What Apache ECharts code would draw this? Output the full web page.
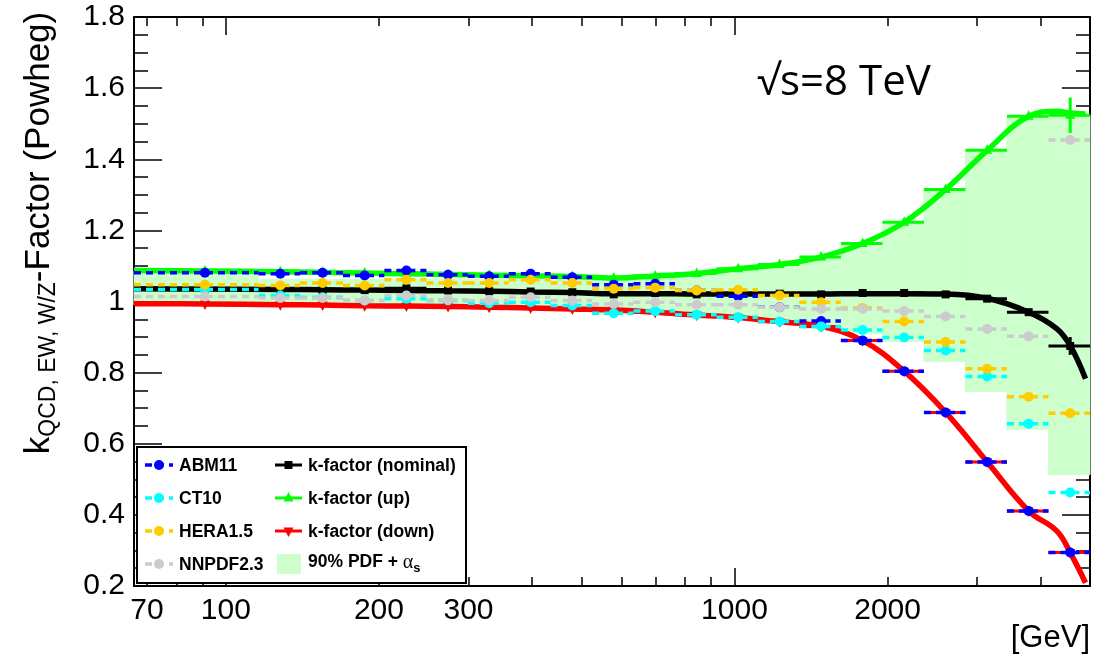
<!DOCTYPE html>
<html>
<head>
<meta charset="utf-8">
<script src="https://cdn.jsdelivr.net/npm/echarts@6.0.0/dist/echarts.min.js"></script>
<style>
  html, body { margin: 0; padding: 0; background: #fff; }
  #main { width: 1105px; height: 661px; }
</style>
</head>
<body>
<div id="main"></div>
<script>
// bin edges in GeV (log x axis)
var binEdges = [66, 116, 140, 170, 205, 248, 299, 360, 435, 525, 633, 764, 922, 1112, 1342, 1619, 1954, 2358, 2845, 3433, 4143, 5000];

// PDF sets, one value per bin
var abm11   = [1.081, 1.078, 1.081, 1.073, 1.087, 1.075, 1.071, 1.078, 1.068, 1.047, 1.050, 1.031, 1.015, 0.984, 0.945, 0.890, 0.804, 0.688, 0.549, 0.411, 0.294];
var ct10    = [1.034, 1.017, 1.012, 1.003, 1.008, 1.003, 0.995, 0.998, 0.989, 0.967, 0.973, 0.963, 0.956, 0.944, 0.930, 0.920, 0.899, 0.862, 0.789, 0.656, 0.463];
var hera15  = [1.047, 1.045, 1.052, 1.045, 1.061, 1.052, 1.052, 1.061, 1.052, 1.036, 1.039, 1.031, 1.033, 1.017, 0.998, 0.982, 0.944, 0.886, 0.811, 0.732, 0.686];
var nnpdf23 = [1.014, 1.010, 1.010, 1.003, 1.017, 1.005, 1.003, 1.012, 1.003, 0.993, 0.998, 0.991, 0.991, 0.984, 0.979, 0.979, 0.973, 0.958, 0.923, 0.902, 1.454];

// k-factor points per bin
var kNominal = [1.035, 1.034, 1.033, 1.032, 1.037, 1.031, 1.029, 1.028, 1.026, 1.020, 1.024, 1.020, 1.022, 1.022, 1.020, 1.024, 1.024, 1.020, 1.008, 0.970, 0.875];
var kUp      = [1.086, 1.084, 1.082, 1.080, 1.078, 1.076, 1.074, 1.072, 1.070, 1.066, 1.072, 1.079, 1.092, 1.104, 1.125, 1.163, 1.223, 1.315, 1.425, 1.521, 1.524];
var kDown    = [0.993, 0.991, 0.990, 0.988, 0.987, 0.986, 0.984, 0.982, 0.979, 0.976, 0.970, 0.962, 0.955, 0.943, 0.930, 0.890, 0.804, 0.688, 0.549, 0.411, 0.294];
var kNominalErr = [0, 0, 0, 0, 0, 0, 0, 0, 0, 0, 0, 0, 0, 0, 0, 0, 0, 0, 0, 0, 0.025];
var kUpErr      = [0, 0, 0, 0, 0, 0, 0, 0, 0, 0, 0, 0, 0, 0, 0, 0, 0, 0, 0, 0, 0.05];

// 90% PDF + alpha_s band per bin
var bandLow  = [0.990, 0.988, 0.987, 0.985, 0.984, 0.983, 0.981, 0.979, 0.976, 0.963, 0.968, 0.958, 0.952, 0.942, 0.924, 0.909, 0.888, 0.831, 0.747, 0.641, 0.513];
var bandHigh = [1.085, 1.062, 1.062, 1.062, 1.062, 1.062, 1.062, 1.062, 1.062, 1.066, 1.072, 1.079, 1.092, 1.104, 1.125, 1.163, 1.223, 1.315, 1.425, 1.521, 1.524];

// smooth k-factor curves
var curveX       = [66, 91, 128, 155, 187.5, 226.5, 273.5, 329.5, 397.5, 480, 579, 698.5, 843, 1017, 1227, 1480.5, 1786.5, 2156, 2601.5, 3139, 3788, 4300, 4571.5, 4900];
var nominalCurve = [1.036, 1.035, 1.034, 1.033, 1.032, 1.031, 1.030, 1.029, 1.027, 1.025, 1.022, 1.022, 1.021, 1.021, 1.021, 1.021, 1.022, 1.022, 1.021, 1.009, 0.970, 0.924, 0.876, 0.783];
var upCurve      = [1.087, 1.086, 1.084, 1.082, 1.080, 1.078, 1.076, 1.074, 1.072, 1.070, 1.066, 1.072, 1.079, 1.092, 1.104, 1.125, 1.163, 1.223, 1.315, 1.425, 1.521, 1.535, 1.530, 1.527];
var downCurve    = [0.994, 0.993, 0.991, 0.990, 0.988, 0.987, 0.986, 0.984, 0.982, 0.979, 0.976, 0.970, 0.962, 0.955, 0.943, 0.930, 0.890, 0.804, 0.688, 0.549, 0.411, 0.355, 0.294, 0.209];

// axis ticks
var xTickValues  = [70, 80, 90, 100, 200, 300, 400, 500, 600, 700, 800, 900, 1000, 2000, 3000, 4000];
var xLongTicks   = [100, 1000];
var xLabelValues = [70, 100, 200, 300, 1000, 2000];

var FONT = '"Liberation Sans", Helvetica, Arial, sans-serif';

function binData(vals, errs) {
	var out = [];
	for (var i = 0; i < vals.length; i++) {
		out.push([binEdges[i], binEdges[i + 1], vals[i], errs ? errs[i] : 0]);
	}
	return out;
}

// PDF set: dashed horizontal bar over the bin + filled circle
function pdfSeries(name, color, vals, z) {
	return {
		name: name,
		type: 'custom',
		z: z,
		data: binData(vals),
		encode: { x: [0, 1], y: 2 },
		renderItem: function (params, api) {
			var a = api.coord([api.value(0), api.value(2)]);
			var b = api.coord([api.value(1), api.value(2)]);
			var c = api.coord([(api.value(0) + api.value(1)) / 2, api.value(2)]);
			return {
				type: 'group',
				children: [
					{ type: 'line', shape: { x1: a[0], y1: a[1], x2: b[0], y2: b[1] },
					  style: { stroke: color, lineWidth: 3.5, lineDash: [7, 5] } },
					{ type: 'circle', shape: { cx: c[0], cy: c[1], r: 5 }, style: { fill: color } }
				]
			};
		}
	};
}

function markerShape(kind, x, y, color) {
	if (kind == 'square') {
		return { type: 'rect', shape: { x: x - 4, y: y - 4, width: 8, height: 8 }, style: { fill: color } };
	}
	if (kind == 'up') {
		return { type: 'polygon', shape: { points: [[x, y - 6], [x - 5, y + 3.5], [x + 5, y + 3.5]] }, style: { fill: color } };
	}
	return { type: 'polygon', shape: { points: [[x, y + 6], [x - 5, y - 3.5], [x + 5, y - 3.5]] }, style: { fill: color } };
}

// k-factor points: solid horizontal bar + marker (+ vertical error)
function kPointSeries(name, color, vals, errs, kind, z) {
	return {
		name: name,
		type: 'custom',
		z: z,
		data: binData(vals, errs),
		encode: { x: [0, 1], y: 2 },
		renderItem: function (params, api) {
			var xm = (api.value(0) + api.value(1)) / 2;
			var a = api.coord([api.value(0), api.value(2)]);
			var b = api.coord([api.value(1), api.value(2)]);
			var c = api.coord([xm, api.value(2)]);
			var kids = [
				{ type: 'line', shape: { x1: a[0], y1: a[1], x2: b[0], y2: b[1] },
				  style: { stroke: color, lineWidth: 3 } }
			];
			if (api.value(3) > 0) {
				var t = api.coord([xm, api.value(2) + api.value(3)]);
				var d = api.coord([xm, api.value(2) - api.value(3)]);
				kids.push({ type: 'line', shape: { x1: t[0], y1: t[1], x2: d[0], y2: d[1] },
				            style: { stroke: color, lineWidth: 3 } });
			}
			kids.push(markerShape(kind, c[0], c[1], color));
			return { type: 'group', children: kids };
		}
	};
}

function curveSeries(name, color, vals, z) {
	var pts = [];
	for (var i = 0; i < curveX.length; i++) pts.push([curveX[i], vals[i]]);
	return {
		name: name,
		type: 'line',
		z: z,
		data: pts,
		smooth: 0.4,
		showSymbol: false,
		symbol: 'none',
		clip: true,
		lineStyle: { color: color, width: 5.5 },
		silent: true
	};
}

function buildChart()
{
	var myChart = echarts.init(document.getElementById('main'), null, { renderer: 'canvas' });

	var xBase = {
		type: 'log', logBase: 10, min: 66, max: 5000, gridIndex: 0,
		splitLine: { show: false }
	};
	var tickStyle = { color: '#000', width: 1.5 };

	var option = {
		backgroundColor: '#fff',
		animation: false,
		grid: { left: 134, right: 15, top: 17, bottom: 75, outerBoundsMode: 'none' },
		xAxis: [
			Object.assign({}, xBase, {
				position: 'bottom',
				axisLine: { show: true, onZero: false, lineStyle: { color: '#000', width: 2 } },
				axisTick: { show: true, inside: true, length: 9, customValues: xTickValues, lineStyle: tickStyle },
				axisLabel: { show: true, customValues: xLabelValues, color: '#000', fontSize: 30, fontFamily: FONT, margin: 10,
				             formatter: function (v) { return String(Math.round(v)); } }
			}),
			Object.assign({}, xBase, {
				position: 'top',
				axisLine: { show: true, onZero: false, lineStyle: { color: '#000', width: 2 } },
				axisTick: { show: true, inside: true, length: 9, customValues: xTickValues, lineStyle: tickStyle },
				axisLabel: { show: false }
			}),
			Object.assign({}, xBase, {
				position: 'bottom',
				axisLine: { show: false, onZero: false },
				axisTick: { show: true, inside: true, length: 18, customValues: xLongTicks, lineStyle: tickStyle },
				axisLabel: { show: false }
			}),
			Object.assign({}, xBase, {
				position: 'top',
				axisLine: { show: false, onZero: false },
				axisTick: { show: true, inside: true, length: 18, customValues: xLongTicks, lineStyle: tickStyle },
				axisLabel: { show: false }
			})
		],
		yAxis: [
			{
				type: 'value', min: 0.2, max: 1.8, interval: 0.2, position: 'left',
				axisLine: { show: true, onZero: false, lineStyle: { color: '#000', width: 2 } },
				axisTick: { show: true, inside: true, length: 28, lineStyle: tickStyle },
				minorTick: { show: true, splitNumber: 4, length: 14, lineStyle: tickStyle },
				axisLabel: { color: '#000', fontSize: 30, fontFamily: FONT, margin: 9 },
				splitLine: { show: false }
			},
			{
				type: 'value', min: 0.2, max: 1.8, interval: 0.2, position: 'right',
				axisLine: { show: true, onZero: false, lineStyle: { color: '#000', width: 2 } },
				axisTick: { show: true, inside: true, length: 28, lineStyle: tickStyle },
				minorTick: { show: true, splitNumber: 4, length: 14, lineStyle: tickStyle },
				axisLabel: { show: false },
				splitLine: { show: false }
			}
		],
		series: [
			{
				name: '90% PDF + αs',
				type: 'custom',
				z: 1,
				data: bandLow.map(function (v, i) { return [binEdges[i], binEdges[i + 1], v, bandHigh[i]]; }),
				encode: { x: [0, 1], y: [2, 3] },
				renderItem: function (params, api) {
					var p1 = api.coord([api.value(0), api.value(3)]);
					var p2 = api.coord([api.value(1), api.value(2)]);
					return { type: 'rect', shape: { x: p1[0], y: p1[1], width: p2[0] - p1[0], height: p2[1] - p1[1] },
					         style: { fill: '#ccffcc', stroke: '#ccffcc', lineWidth: 1 } };
				}
			},
			curveSeries('k-factor (up) curve', '#00ff00', upCurve, 2),
			curveSeries('k-factor (down) curve', '#ff0000', downCurve, 2),
			curveSeries('k-factor (nominal) curve', '#000000', nominalCurve, 2),
			kPointSeries('k-factor (up)', '#00ff00', kUp, kUpErr, 'up', 3),
			kPointSeries('k-factor (down)', '#ff0000', kDown, null, 'down', 3),
			kPointSeries('k-factor (nominal)', '#000000', kNominal, kNominalErr, 'square', 3),
			pdfSeries('ABM11', '#0000ff', abm11, 4),
			pdfSeries('CT10', '#00ffff', ct10, 5),
			pdfSeries('HERA1.5', '#ffcc00', hera15, 6),
			pdfSeries('NNPDF2.3', '#cccccc', nnpdf23, 7)
		],
		graphic: buildGraphics()
	};

	myChart.setOption(option);
}

// legend box, titles
function buildGraphics()
{
	var g = [];
	var legFont = 'bold 17.5px ' + FONT;
	g.push({ type: 'rect', z: 100, shape: { x: 137, y: 447, width: 329, height: 136 },
	         style: { fill: '#fff', stroke: '#000', lineWidth: 2 } });

	var pdfRows = [['ABM11', '#0000ff'], ['CT10', '#00ffff'], ['HERA1.5', '#ffcc00'], ['NNPDF2.3', '#cccccc']];
	var rowY = [465, 498, 531, 564];
	for (var i = 0; i < pdfRows.length; i++) {
		g.push({ type: 'line', z: 101, shape: { x1: 145, y1: rowY[i], x2: 173, y2: rowY[i] },
		         style: { stroke: pdfRows[i][1], lineWidth: 3.5, lineDash: [7, 5] } });
		g.push({ type: 'circle', z: 102, shape: { cx: 159, cy: rowY[i], r: 5 }, style: { fill: pdfRows[i][1] } });
		g.push({ type: 'text', z: 102, x: 179, y: rowY[i] + 1,
		         style: { text: pdfRows[i][0], font: legFont, fill: '#000', verticalAlign: 'middle' } });
	}

	var kRows = [['k-factor (nominal)', '#000000', 'square'], ['k-factor (up)', '#00ff00', 'up'], ['k-factor (down)', '#ff0000', 'down']];
	for (var j = 0; j < kRows.length; j++) {
		g.push({ type: 'line', z: 101, shape: { x1: 275, y1: rowY[j], x2: 302, y2: rowY[j] },
		         style: { stroke: kRows[j][1], lineWidth: 3 } });
		var m = markerShape(kRows[j][2], 288.5, rowY[j], kRows[j][1]);
		m.z = 102;
		g.push(m);
		g.push({ type: 'text', z: 102, x: 308, y: rowY[j] + 1,
		         style: { text: kRows[j][0], font: legFont, fill: '#000', verticalAlign: 'middle' } });
	}
	g.push({ type: 'rect', z: 101, shape: { x: 277, y: 554, width: 24, height: 20 }, style: { fill: '#ccffcc' } });
	g.push({ type: 'text', z: 102, x: 308, y: 564,
	         style: {
	         	text: '{a|90% PDF + }{g|α}{s|s}',
	         	verticalAlign: 'middle',
	         	rich: {
	         		a: { font: legFont, fill: '#000', lineHeight: 22, verticalAlign: 'top' },
	         		g: { fontSize: 20, fontFamily: '"Liberation Serif", serif', fill: '#000', lineHeight: 22, verticalAlign: 'top' },
	         		s: { font: 'bold 13px ' + FONT, fill: '#000', lineHeight: 12, verticalAlign: 'bottom' }
	         	}
	         } });

	// y axis title (rotated)
	g.push({ type: 'text', z: 50, x: 41, y: 233, rotation: Math.PI / 2,
	         style: {
	         	text: '{m|k}{s|QCD, EW, W/Z}{m|-Factor (Powheg)}',
	         	align: 'center', verticalAlign: 'middle',
	         	rich: {
	         		m: { fontSize: 35, fontFamily: FONT, fill: '#000', lineHeight: 38, verticalAlign: 'top' },
	         		s: { fontSize: 23, fontFamily: FONT, fill: '#000', lineHeight: 18, verticalAlign: 'bottom' }
	         	}
	         } });

	// x axis title
	g.push({ type: 'text', z: 50, x: 1090, y: 638,
	         style: { text: '[GeV]', font: '31px ' + FONT, fill: '#000', align: 'right', verticalAlign: 'middle' } });

	// energy label
	g.push({ type: 'text', z: 50, x: 757, y: 83,
	         style: { text: '√s=8 TeV', font: '42px "Open Sans", "Noto Sans", sans-serif', fill: '#000', verticalAlign: 'middle' } });
	return g;
}

buildChart();
</script>
</body>
</html>
